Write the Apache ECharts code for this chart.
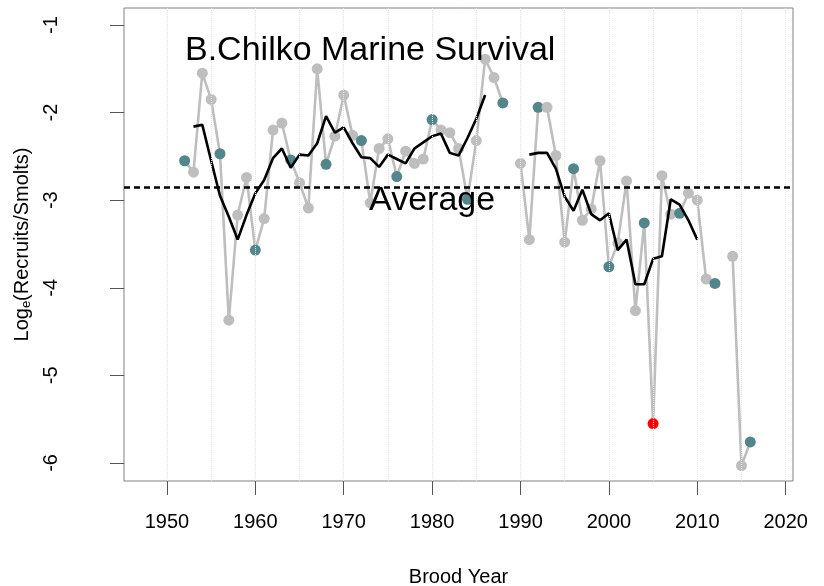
<!DOCTYPE html>
<html>
<head>
<meta charset="utf-8">
<script src="https://cdn.jsdelivr.net/npm/echarts@6/dist/echarts.min.js"></script>
<style>
  html, body { margin: 0; padding: 0; background: #fff; }
  #chart { width: 824px; height: 586px; }
</style>
</head>
<body>
<div id="chart"></div>
<script>
// brood years
var years = [1952, 1953, 1954, 1955, 1956, 1957, 1958, 1959, 1960, 1961,
  1962, 1963, 1964, 1965, 1966, 1967, 1968, 1969, 1970, 1971,
  1972, 1973, 1974, 1975, 1976, 1977, 1978, 1979, 1980, 1981,
  1982, 1983, 1984, 1985, 1986, 1987, 1988, 1989, 1990, 1991,
  1992, 1993, 1994, 1995, 1996, 1997, 1998, 1999, 2000, 2001,
  2002, 2003, 2004, 2005, 2006, 2007, 2008, 2009, 2010, 2011,
  2012, 2013, 2014, 2015, 2016];

// log_e(recruits / smolts)
var logSurvival = [-2.55, -2.68, -1.55, -1.85, -2.47, -4.37, -3.17, -2.74, -3.57, -3.21,
  -2.20, -2.12, -2.54, -2.80, -3.09, -1.50, -2.59, -2.27, -1.80, -2.26,
  -2.32, -3.03, -2.41, -2.30, -2.73, -2.44, -2.58, -2.53, -2.08, -2.20,
  -2.23, -2.41, -2.99, -2.32, -1.39, -1.60, -1.89, null, -2.58, -3.45,
  -1.94, -1.94, -2.49, -3.48, -2.64, -3.23, -3.10, -2.55, -3.76, -3.49,
  -2.78, -4.26, -3.26, -5.55, -2.72, -3.16, -3.15, -2.92, -3.00, -3.90,
  -3.95, null, -3.64, -6.03, -5.76];

// 4-year running mean (black line)
var runMean = [null, -2.16, -2.14, -2.55, -2.95, -3.19, -3.45, -3.17, -2.92, -2.77,
  -2.52, -2.41, -2.63, -2.48, -2.49, -2.35, -2.04, -2.23, -2.17, -2.35,
  -2.51, -2.52, -2.62, -2.48, -2.53, -2.58, -2.41, -2.34, -2.27, -2.24,
  -2.46, -2.49, -2.29, -2.07, -1.80, null, null, null, null, -2.48,
  -2.46, -2.46, -2.64, -2.96, -3.12, -2.88, -3.16, -3.23, -3.15, -3.57,
  -3.45, -3.96, -3.96, -3.67, -3.64, -2.99, -3.05, -3.23, -3.45, null,
  null, null, null, null, null];

var cycleYears = [1952, 1956, 1960, 1964, 1968, 1972, 1976, 1980, 1984, 1988,
  1992, 1996, 2000, 2004, 2008, 2012, 2016];
var lowYear = 2005;
var averageValue = -2.85;

var xTicks = [1950, 1960, 1970, 1980, 1990, 2000, 2010, 2020];
var yTicks = [-6, -5, -4, -3, -2, -1];
var gridYears = [1950, 1955, 1960, 1965, 1970, 1975, 1980, 1985, 1990, 1995,
  2000, 2005, 2010, 2015, 2020];
var averageLabelAt = [1980, -3];

var font = "'Liberation Sans', Arial, sans-serif";

var pointData = years.map(function (y, i) {
  var item = { value: [y, logSurvival[i]] };
  if (y === lowYear) {
    item.itemStyle = { color: "#ff0000" };
  } else if (cycleYears.indexOf(y) >= 0) {
    item.itemStyle = { color: "#53868b" };
  }
  return item;
});

var meanData = years.map(function (y, i) {
  return [y, runMean[i]];
});

var myChart = echarts.init(document.getElementById("chart"));

var option = {
  animation: false,
  backgroundColor: "#fff",
  textStyle: { fontFamily: font },
  title: {
    text: "B.Chilko Marine Survival",
    left: 185,
    top: 34,
    padding: 0,
    textStyle: { fontFamily: font, fontSize: 34, fontWeight: "normal", color: "#000" }
  },
  grid: {
    left: 124,
    top: 8,
    width: 669,
    height: 473,
    show: true,
    borderColor: "#808080",
    borderWidth: 1,
    containLabel: false,
    outerBoundsMode: "none"
  },
  xAxis: {
    type: "value",
    min: 1945.14,
    max: 2020.83,
    name: "Brood Year",
    nameLocation: "middle",
    nameGap: 86,
    nameTextStyle: { fontFamily: font, fontSize: 20, color: "#000" },
    axisLine: { show: false },
    axisTick: {
      show: true,
      length: 14,
      customValues: xTicks,
      lineStyle: { color: "#555", width: 1 }
    },
    axisLabel: {
      customValues: xTicks,
      margin: 31,
      fontFamily: font,
      fontSize: 20,
      color: "#000",
      formatter: function (v) { return String(v); }
    },
    splitLine: { show: false }
  },
  yAxis: {
    type: "value",
    min: -6.206,
    max: -0.806,
    name: "Log{sub|e}(Recruits/Smolts)",
    nameLocation: "middle",
    nameRotate: 90,
    nameGap: 76,
    nameTextStyle: {
      fontFamily: font,
      fontSize: 20,
      color: "#000",
      rich: {
        sub: { fontFamily: font, fontSize: 13, color: "#000", padding: [9, 0, 0, 0] }
      }
    },
    axisLine: { show: false },
    axisTick: {
      show: true,
      length: 14,
      customValues: yTicks,
      lineStyle: { color: "#555", width: 1 }
    },
    axisLabel: {
      customValues: yTicks,
      rotate: 90,
      margin: 63,
      fontFamily: font,
      fontSize: 20,
      color: "#000"
    },
    splitLine: { show: false }
  },
  series: [
    {
      // light vertical guide lines
      name: "guides",
      type: "scatter",
      data: [],
      silent: true,
      z: 1,
      markLine: {
        silent: true,
        symbol: ["none", "none"],
        label: { show: false },
        lineStyle: { color: "#e2e2e2", type: "dotted", width: 1 },
        data: gridYears.map(function (y) { return { xAxis: y }; })
      }
    },
    {
      name: "survival",
      type: "line",
      data: pointData,
      connectNulls: false,
      symbol: "circle",
      symbolSize: 11,
      showSymbol: true,
      z: 3,
      lineStyle: { color: "#bebebe", width: 2.6 },
      itemStyle: { color: "#bebebe", borderWidth: 0 }
    },
    {
      name: "running mean",
      type: "line",
      data: meanData,
      connectNulls: false,
      showSymbol: false,
      symbol: "none",
      z: 4,
      lineStyle: { color: "#000", width: 2.6 },
      markLine: {
        silent: true,
        symbol: ["none", "none"],
        label: { show: false },
        lineStyle: { color: "#000", type: [6, 4], width: 2.7 },
        data: [{ yAxis: averageValue }]
      }
    },
    {
      name: "average label",
      type: "scatter",
      data: [averageLabelAt],
      symbolSize: 1,
      silent: true,
      z: 5,
      itemStyle: { color: "rgba(0,0,0,0)", opacity: 1 },
      label: {
        show: true,
        position: "inside",
        formatter: "Average",
        fontFamily: font,
        fontSize: 34,
        color: "#000",
        textBorderWidth: 0
      }
    }
  ]
};

myChart.setOption(option);
window.addEventListener("resize", function () {
  myChart.resize();
});
</script>
</body>
</html>
